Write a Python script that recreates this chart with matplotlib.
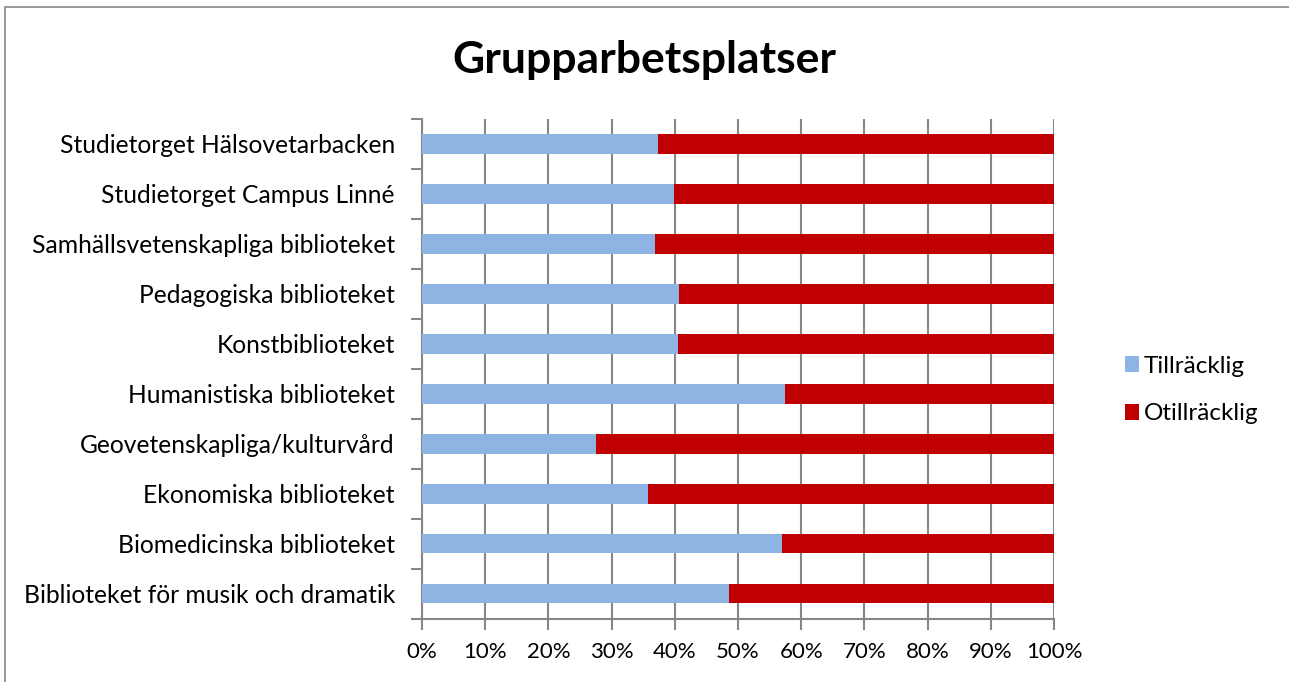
"""Grupparbetsplatser: stacked 100% horizontal bars."""

import matplotlib.pyplot as plt
import numpy as np
from matplotlib.patches import Rectangle
from matplotlib.ticker import FixedLocator, PercentFormatter

plt.rcParams["font.family"] = ["Lato", "DejaVu Sans"]

categories = [
    "Biblioteket för musik och dramatik",
    "Biomedicinska biblioteket",
    "Ekonomiska biblioteket",
    "Geovetenskapliga/kulturvård",
    "Humanistiska biblioteket",
    "Konstbiblioteket",
    "Pedagogiska biblioteket",
    "Samhällsvetenskapliga biblioteket",
    "Studietorget Campus Linné",
    "Studietorget Hälsovetarbacken",
]
tillracklig = [48.6, 57.0, 35.8, 27.5, 57.5, 40.5, 40.7, 36.8, 39.8, 37.3]
otillracklig = [100 - v for v in tillracklig]

BLUE = "#8EB4E3"
RED = "#C00000"
GRAY = "#868686"

fig = plt.figure(figsize=(12.89, 6.82), dpi=100)
ax = fig.add_axes([0.3274, 0.0928, 0.8177 - 0.3274, 0.8255 - 0.0928])

y = np.arange(len(categories))
ax.barh(y, tillracklig, height=0.39, color=BLUE, label="Tillräcklig", zorder=3)
ax.barh(y, otillracklig, left=tillracklig, height=0.39, color=RED,
        label="Otillräcklig", zorder=3)

ax.set_xlim(0, 100)
ax.set_ylim(-0.5, len(categories) - 0.5)
ax.set_xticks(np.arange(0, 101, 10))
ax.xaxis.set_major_formatter(PercentFormatter(decimals=0))
ax.set_yticks(y, categories)
ax.yaxis.set_minor_locator(FixedLocator(np.arange(-0.5, len(categories), 1)))
ax.tick_params(axis="y", which="major", length=0, pad=19.5, labelsize=17.7)
ax.tick_params(axis="y", which="minor", length=8, width=1.5, color=GRAY)
ax.tick_params(axis="x", length=8, width=1.5, color=GRAY, pad=9, labelsize=16)

ax.grid(True, axis="x", color=GRAY, linewidth=1.5, zorder=0)
for side in ("top", "right"):
    ax.spines[side].set_visible(False)
for side in ("left", "bottom"):
    ax.spines[side].set_color(GRAY)
    ax.spines[side].set_linewidth(1.5)

fig.text(0.5, 0.912, "Grupparbetsplatser", ha="center", va="center",
         fontsize=32, fontweight="bold")

fig.legend(loc="center left", bbox_to_anchor=(0.8555, 0.428), frameon=False,
           fontsize=17.5, handlelength=0.6, handleheight=0.6,
           handletextpad=0.2, labelspacing=1.1)

fig.patches.append(Rectangle((5 / 1289, -0.05), 1.1, 1 - 7 / 682 + 0.05,
                             transform=fig.transFigure, fill=False,
                             edgecolor=GRAY, linewidth=1.2))

fig.savefig("out.png", dpi=100)
